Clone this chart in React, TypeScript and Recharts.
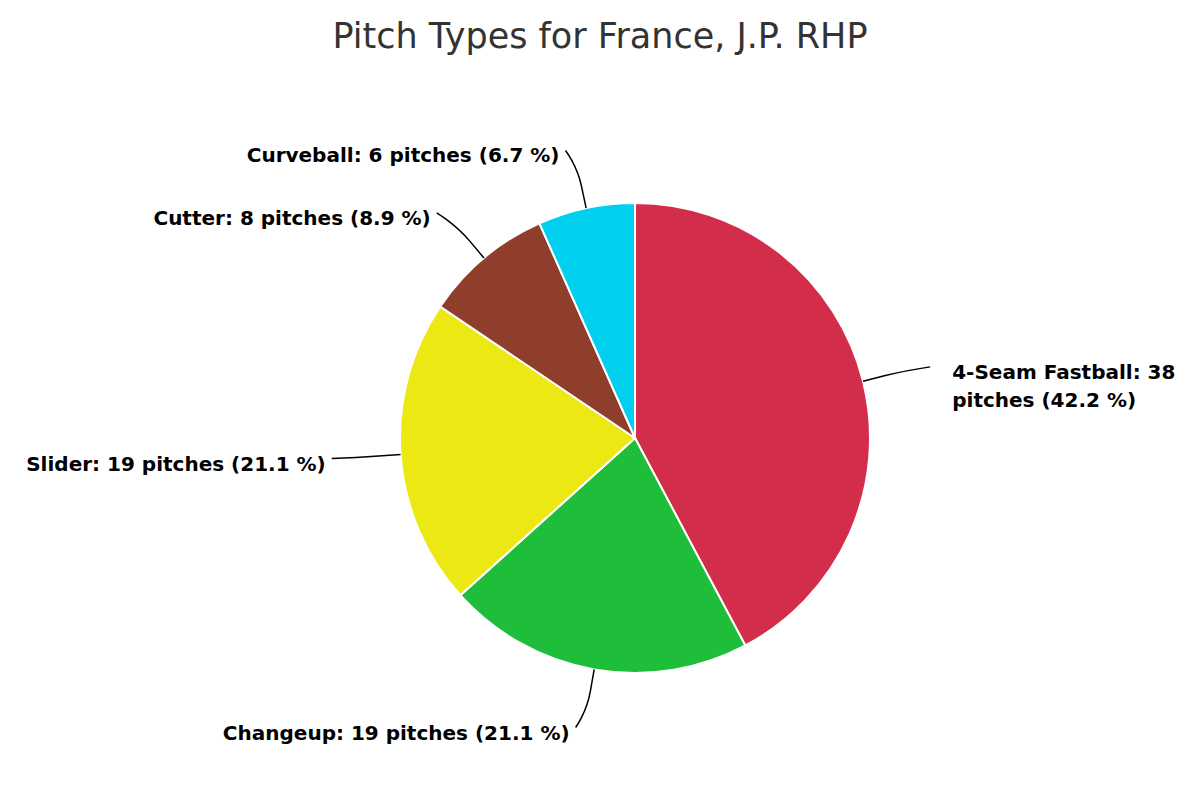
import React from 'react';
import { PieChart, Pie, Cell } from 'recharts';

const pitchTypes = ['4-Seam Fastball', 'Changeup', 'Slider', 'Cutter', 'Curveball'];
const pitchCounts = [38, 19, 19, 8, 6];
const sliceColors = ['#d22e4b', '#1ebe3a', '#ece814', '#8f3e2c', '#00cfee'];

const total = pitchCounts.reduce((s, v) => s + v, 0);
const chartData = pitchTypes.map((name, i) => ({ name, value: pitchCounts[i] }));

const RAD = Math.PI / 180;
const FONT = '"DejaVu Sans", Verdana, sans-serif';

// where the connector meets the label, Highcharts-like
const labelPoint = (cx: number, cy: number, r: number, midAngle: number) => {
  const cos = Math.cos(-midAngle * RAD);
  const sin = Math.sin(-midAngle * RAD);
  const right = cos >= 0;
  return {
    x: cx + (r + 61) * cos + (right ? 8 : -8),
    y: cy + (r + 59) * sin,
    right,
  };
};

const wrapText = (text: string, maxWidth: number) => {
  const charW = 11.2;
  const words = text.split(' ');
  const lines: string[] = [];
  let cur = '';
  words.forEach((w) => {
    const next = cur ? cur + ' ' + w : w;
    if (next.length * charW > maxWidth && cur) {
      lines.push(cur);
      cur = w;
    } else {
      cur = next;
    }
  });
  if (cur) lines.push(cur);
  return lines;
};

const renderLabel = (props: any) => {
  const { cx, cy, outerRadius, midAngle, name, value } = props;
  const p = labelPoint(cx, cy, outerRadius, midAngle);
  const pct = ((value / total) * 100).toFixed(1);
  const text = `${name}: ${value} pitches (${pct} %)`;
  const tx = p.right ? p.x + 22 : p.x - 6;
  const maxW = p.right ? 1195 - tx : tx - 5;
  const lines = wrapText(text, maxW);
  return (
    <text
      x={tx}
      y={p.y + 5}
      textAnchor={p.right ? 'start' : 'end'}
      dominantBaseline="central"
      fill="#000"
      fontFamily={FONT}
      fontSize={20}
      fontWeight="bold"
    >
      {lines.map((l, i) => (
        <tspan key={i} x={tx} dy={i === 0 ? 0 : 28}>
          {l}
        </tspan>
      ))}
    </text>
  );
};

const renderConnector = (props: any) => {
  const { cx, cy, outerRadius, midAngle } = props;
  const cos = Math.cos(-midAngle * RAD);
  const sin = Math.sin(-midAngle * RAD);
  const p = labelPoint(cx, cy, outerRadius, midAngle);
  const edge = { x: cx + outerRadius * cos, y: cy + outerRadius * sin };
  const brk = { x: cx + (outerRadius + 22) * cos, y: cy + (outerRadius + 22) * sin };
  const ctrl = { x: 2 * brk.x - edge.x, y: 2 * brk.y - edge.y };
  const d = `M${p.x},${p.y} C${p.x},${p.y} ${ctrl.x},${ctrl.y} ${brk.x},${brk.y} L${edge.x},${edge.y}`;
  return <path d={d} fill="none" stroke="#000" strokeWidth={1.5} />;
};

const App = () => {
  return (
    <div style={{ position: 'absolute', left: 0, top: 0, width: 1200, height: 800, background: '#fff' }}>
      <div
        style={{
          position: 'absolute',
          left: 0,
          top: 19,
          width: 1200,
          textAlign: 'center',
          fontFamily: FONT,
          fontSize: 35,
          lineHeight: '34px',
          color: '#333333',
        }}
      >
        Pitch Types for France, J.P. RHP
      </div>
      <PieChart
        width={1200}
        height={800}
        margin={{ top: 0, right: 0, bottom: 0, left: 0 }}
        style={{ position: 'absolute', left: 0, top: 0 }}
      >
        <Pie
          data={chartData}
          dataKey="value"
          nameKey="name"
          cx={635}
          cy={438}
          outerRadius={235}
          startAngle={90}
          endAngle={-270}
          stroke="#ffffff"
          strokeWidth={2}
          label={renderLabel}
          labelLine={renderConnector}
          isAnimationActive={false}
        >
          {chartData.map((d, i) => (
            <Cell key={d.name} fill={sliceColors[i]} />
          ))}
        </Pie>
      </PieChart>
    </div>
  );
};

export default App;
